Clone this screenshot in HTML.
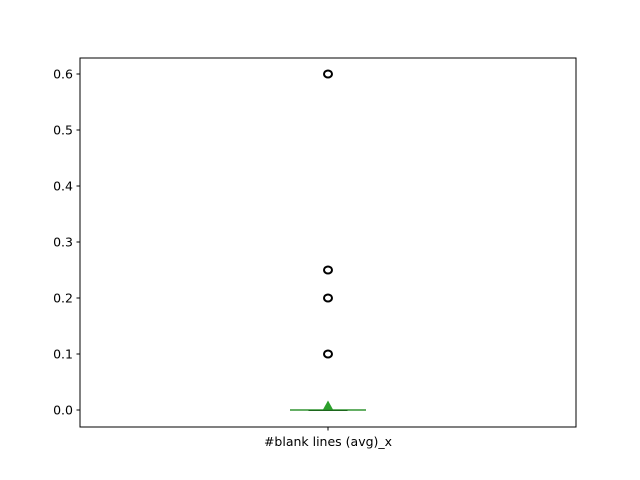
<!DOCTYPE html>
<html><head><meta charset="utf-8"><style>body{margin:0;background:#fff}svg{display:block;font-family:"DejaVu Sans","Liberation Sans",sans-serif}</style></head>
<body>
<svg id="c" width="640" height="480"></svg>
<script>
const categories = ["#blank lines (avg)_x"];
const q1 = [0], median = [0], q3 = [0], whiskLo = [0], whiskHi = [0];
const meanVals = [0.008];
const fliers = [[0.1, 0.2, 0.25, 0.6]];
const yTicks = [0.0, 0.1, 0.2, 0.3, 0.4, 0.5, 0.6];
const tickLabels = ["0.0","0.1","0.2","0.3","0.4","0.5","0.6"];

const NS="http://www.w3.org/2000/svg";
const svg=document.getElementById('c');
const L=80,R=576,T=58,B=427;
const y=v=>410-v*560;
const x=i=>L+(R-L)*(i+0.5)/categories.length;
function mk(t,a,p){const e=document.createElementNS(NS,t);for(const k in a)e.setAttribute(k,a[k]);(p||svg).appendChild(e);return e;}
const frame=mk('rect',{x:L,y:T,width:R-L,height:B-T,fill:'none',stroke:'#000','stroke-width':1});


yTicks.forEach((v,i)=>{
  const tk=mk('line',{x1:L-3.5,x2:L,y1:y(v),y2:y(v),stroke:'#000'});
  
  
  const t=mk('text',{x:L-7,y:y(v)+4.5,'text-anchor':'end','font-size':'12.5px'});
  t.textContent=tickLabels[i];
  
  
});
categories.forEach((c,i)=>{
  const cx=x(i);
  const tk=mk('line',{x1:cx,x2:cx,y1:B,y2:B+3.5,stroke:'#000'});
  
  
  const t=mk('text',{x:cx,y:B+19,'text-anchor':'middle','font-size':'12.5px'});
  t.textContent=c;
  
  
  const g=mk('g',{});
  
  
  mk('line',{x1:cx-38,x2:cx+38,y1:y(whiskLo[i]),y2:y(whiskLo[i]),stroke:'#000'},g);
  mk('line',{x1:cx-38,x2:cx+38,y1:y(whiskHi[i]),y2:y(whiskHi[i]),stroke:'#000'},g);
  mk('rect',{x:cx-19,y:y(q3[i]),width:38,height:Math.max(0.5,y(q1[i])-y(q3[i])),fill:'none',stroke:'#000'},g);
  mk('line',{x1:cx-38,x2:cx+38,y1:y(median[i]),y2:y(median[i]),stroke:'#2ca02c','stroke-width':1.5,opacity:0.85},g);
  const my=y(meanVals[i]);
  const m=mk('polygon',{points:`${cx},${my-5} ${cx-5},${my+4} ${cx+5},${my+4}`,fill:'#2ca02c'},g);
  
  
  fliers[i].forEach(v=>{
    const f=mk('ellipse',{cx:cx,cy:y(v),rx:4,ry:3.5,fill:'none',stroke:'#000','stroke-width':2});
    
    
  });
});
</script>
</body></html>
